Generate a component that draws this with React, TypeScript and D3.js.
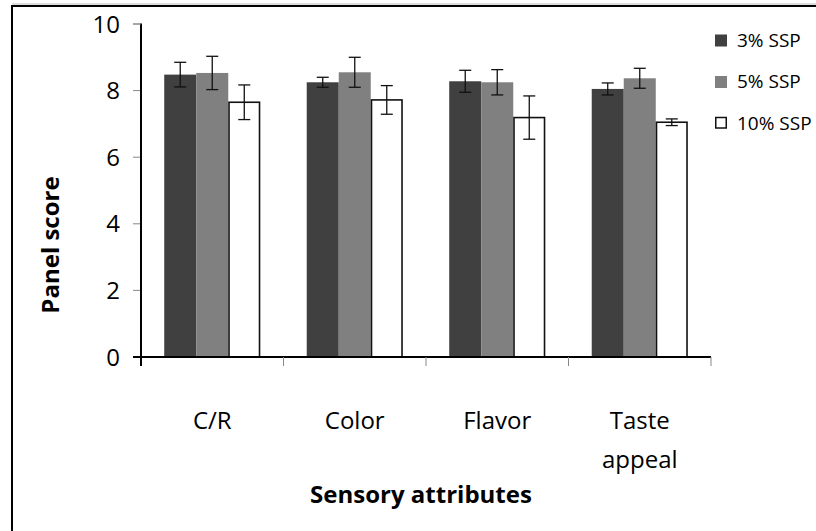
import React from 'react';
import * as d3 from 'd3';

const categories = ['C/R', 'Color', 'Flavor', 'Taste appeal'];
const categoryLines = [['C/R'], ['Color'], ['Flavor'], ['Taste', 'appeal']];
const seriesNames = ['3% SSP', '5% SSP', '10% SSP'];

const ssp3 = [8.48, 8.25, 8.28, 8.05];
const ssp3Err = [0.37, 0.15, 0.33, 0.18];
const ssp5 = [8.53, 8.55, 8.25, 8.37];
const ssp5Err = [0.5, 0.45, 0.38, 0.3];
const ssp10 = [7.65, 7.72, 7.19, 7.05];
const ssp10Err = [0.52, 0.43, 0.65, 0.1];

const yTicks = [0, 2, 4, 6, 8, 10];

const seriesValues = [ssp3, ssp5, ssp10];
const seriesErrors = [ssp3Err, ssp5Err, ssp10Err];
const fills = ['#404040', '#808080', '#ffffff'];

const W = 816;
const H = 531;
const FONT = "'Open Sans', 'DejaVu Sans', sans-serif";

export default function App() {
  const left = 141;
  const right = 711;
  const top = 24;
  const bottom = 357;

  const x = d3
    .scaleBand<string>()
    .domain(categories)
    .range([left, right])
    .paddingInner(0.326)
    .paddingOuter(0.163);
  const xs = d3.scaleBand<string>().domain(seriesNames).range([0, x.bandwidth()]);
  const y = d3.scaleLinear().domain([0, 10]).range([bottom, top]);

  const step = x.step();
  const boundaries = d3.range(categories.length + 1).map((i) => left + i * step);
  const capHalf = 6;

  return (
    <svg
      width={W}
      height={H}
      viewBox={`0 0 ${W} ${H}`}
      style={{ position: 'absolute', left: 0, top: 0, background: '#fff' }}
      fontFamily={FONT}
    >
      {/* chart frame */}
      <line x1={12} y1={4} x2={W} y2={4} stroke="#bbb" strokeWidth={1} />
      <rect x={12} y={6} width={W + 20} height={H + 20} fill="none" stroke="#000" strokeWidth={2} />

      {/* y ticks + labels */}
      {yTicks.map((t) => (
        <g key={t}>
          <line x1={133} x2={left} y1={y(t)} y2={y(t)} stroke={t === 0 ? '#000' : '#888'} strokeWidth={t === 0 ? 2 : 1} />
          <text x={120} y={y(t)} dy="0.36em" textAnchor="end" fontSize={24} fill="#000">
            {t}
          </text>
        </g>
      ))}

      {/* bars */}
      {categories.map((c, ci) => (
        <g key={c} transform={`translate(${x(c)},0)`}>
          {seriesNames.map((s, si) => {
            const v = seriesValues[si][ci];
            const bx = xs(s)!;
            const isWhite = si === 2;
            return (
              <rect
                key={s}
                x={isWhite ? bx + 0.75 : bx}
                y={y(v)}
                width={isWhite ? xs.bandwidth() - 1.5 : xs.bandwidth()}
                height={bottom - y(v)}
                fill={fills[si]}
                stroke={isWhite ? '#111' : 'none'}
                strokeWidth={isWhite ? 1.6 : 0}
              />
            );
          })}
        </g>
      ))}

      {/* error bars */}
      {categories.map((c, ci) =>
        seriesNames.map((s, si) => {
          const v = seriesValues[si][ci];
          const e = seriesErrors[si][ci];
          const cx = x(c)! + xs(s)! + xs.bandwidth() / 2;
          return (
            <g key={`${c}-${s}`} stroke="#111" strokeWidth={1.3}>
              <line x1={cx} x2={cx} y1={y(v + e)} y2={y(v - e)} />
              <line x1={cx - capHalf} x2={cx + capHalf} y1={y(v + e)} y2={y(v + e)} />
              <line x1={cx - capHalf} x2={cx + capHalf} y1={y(v - e)} y2={y(v - e)} />
            </g>
          );
        })
      )}

      {/* axes */}
      <line x1={left} x2={left} y1={y(10) - 0.5} y2={bottom + 9} stroke="#000" strokeWidth={2} />
      <line x1={left - 8} x2={left} y1={y(10)} y2={y(10)} stroke="#888" strokeWidth={1} />
      <line x1={left} x2={right} y1={bottom} y2={bottom} stroke="#000" strokeWidth={2} />
      {boundaries.slice(1).map((bx, i) => (
        <line key={i} x1={bx} x2={bx} y1={bottom} y2={bottom + 9} stroke="#888" strokeWidth={1} />
      ))}

      {/* category labels */}
      {categories.map((c, ci) => (
        <text key={c} textAnchor="middle" fontSize={24} fill="#000">
          {categoryLines[ci].map((ln, li) => (
            <tspan key={li} x={x(c)! + x.bandwidth() / 2} y={429 + li * 39}>
              {ln}
            </tspan>
          ))}
        </text>
      ))}

      {/* axis titles */}
      <text x={421} y={503} textAnchor="middle" fontSize={24} fontWeight="bold" fill="#000">
        Sensory attributes
      </text>
      <text
        transform={`translate(59,245) rotate(-90)`}
        textAnchor="middle"
        fontSize={24}
        fontWeight="bold"
        fill="#000"
      >
        Panel score
      </text>

      {/* legend */}
      {seriesNames.map((s, si) => {
        const ly = 40 + si * 41.5;
        return (
          <g key={s}>
            <rect
              x={si === 2 ? 715.75 : 715}
              y={ly - 5.5}
              width={si === 2 ? 10.5 : 12}
              height={si === 2 ? 10.5 : 12}
              fill={fills[si]}
              stroke={si === 2 ? '#111' : 'none'}
              strokeWidth={1.5}
            />
            <text x={737} y={ly} dy="0.36em" fontSize={19} fill="#000">
              {s}
            </text>
          </g>
        );
      })}
    </svg>
  );
}
